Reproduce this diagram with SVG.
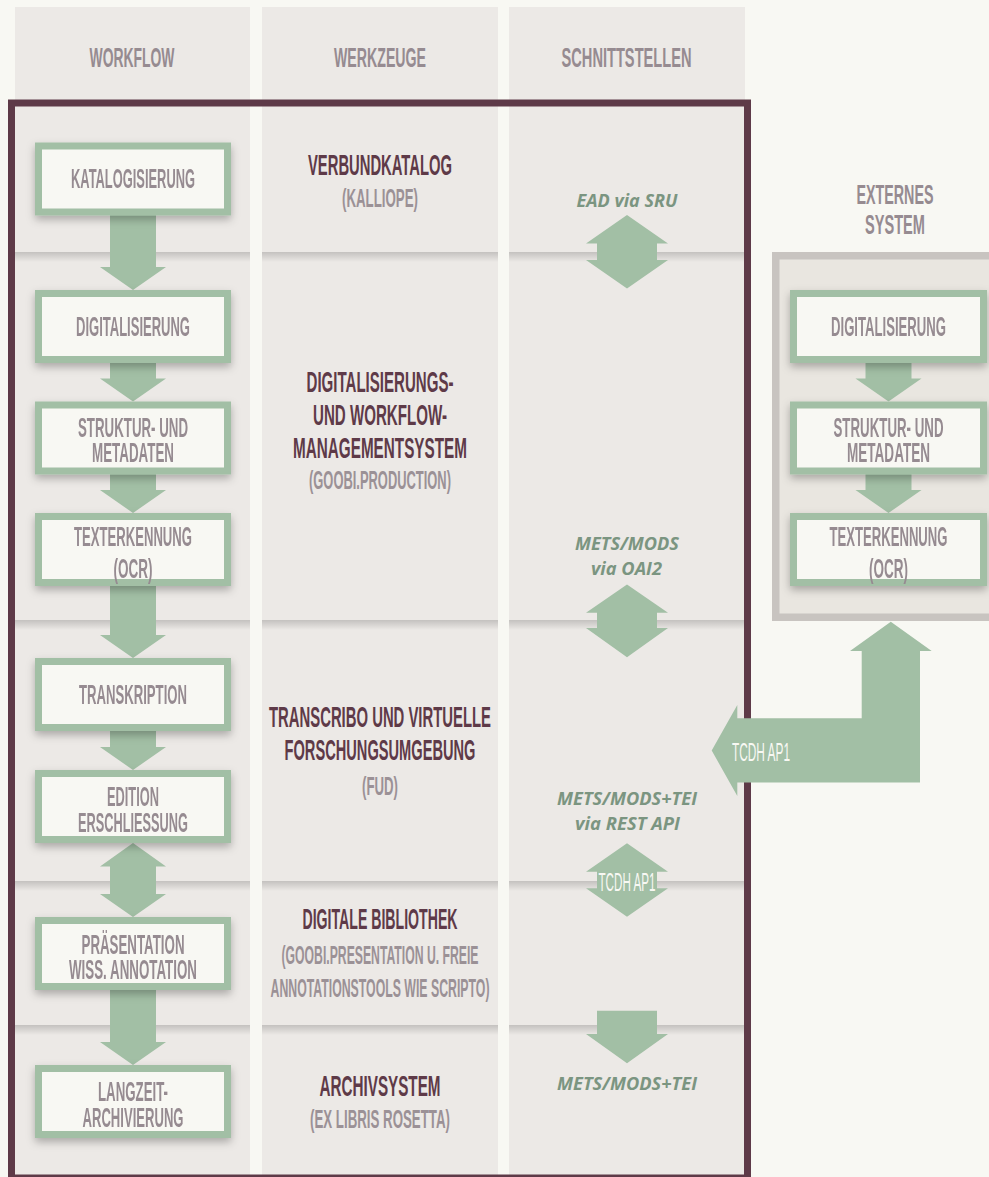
<svg xmlns="http://www.w3.org/2000/svg" width="989" height="1177" viewBox="0 0 989 1177">
<defs>
<style>
.bg{fill:#f8f8f3}
.col{fill:#ece9e6}
.band{fill:url(#bandg)}
.frame{fill:none;stroke:#5e3a48;stroke-width:7}
.extfill{fill:#e9e6e0}
.extline{fill:none;stroke:#c8c4c0;stroke-width:7.5}
.box{fill:#f8f8f3;stroke:#a2bfa5;stroke-width:7}
.arr{fill:#a2bfa5}
.t{font-family:"Liberation Sans Narrow","Liberation Sans",sans-serif;font-weight:bold;text-anchor:middle}
.hd{font-size:27px;fill:#968b91}
.wf{font-size:27px;fill:#968b91}
.ti{font-size:30px;fill:#5e3a48}
.sub{font-size:26px;fill:#9b9196}
.wt{font-size:26px;fill:#f8f8f3;font-weight:normal}
.if{font-family:"Open Sans","DejaVu Sans",sans-serif;font-weight:bold;font-style:italic;font-size:18px;fill:#7b9581;text-anchor:middle}
</style>
<linearGradient id="bandg" x1="0" y1="0" x2="0" y2="1">
<stop offset="0" stop-color="#000" stop-opacity="0.17"/>
<stop offset="1" stop-color="#000" stop-opacity="0"/>
</linearGradient>
<filter id="sh" x="-20%" y="-20%" width="140%" height="170%">
<feDropShadow dx="0" dy="4" stdDeviation="4" flood-color="#000" flood-opacity="0.28"/>
</filter>
</defs>

<rect class="bg" x="0" y="0" width="989" height="1177"/>

<g id="columns">
<rect class="col" x="15" y="7" width="235" height="1170"/>
<rect class="col" x="262" y="7" width="236" height="1170"/>
<rect class="col" x="509" y="7" width="236" height="1170"/>
<rect class="band" x="15" y="252" width="235" height="10"/>
<rect class="band" x="262" y="252" width="236" height="10"/>
<rect class="band" x="509" y="252" width="236" height="10"/>
<rect class="band" x="15" y="620" width="235" height="10"/>
<rect class="band" x="262" y="620" width="236" height="10"/>
<rect class="band" x="509" y="620" width="236" height="10"/>
<rect class="band" x="15" y="881" width="235" height="10"/>
<rect class="band" x="262" y="881" width="236" height="10"/>
<rect class="band" x="509" y="881" width="236" height="10"/>
<rect class="band" x="15" y="1025" width="235" height="10"/>
<rect class="band" x="262" y="1025" width="236" height="10"/>
<rect class="band" x="509" y="1025" width="236" height="10"/>
</g>

<g id="headers">
<text class="t hd" x="132" y="66.5" textLength="85" lengthAdjust="spacingAndGlyphs">WORKFLOW</text>
<text class="t hd" x="380" y="66.5" textLength="92" lengthAdjust="spacingAndGlyphs">WERKZEUGE</text>
<text class="t hd" x="626.5" y="66.5" textLength="130" lengthAdjust="spacingAndGlyphs">SCHNITTSTELLEN</text>
<text class="t hd" x="895" y="203.5" textLength="77" lengthAdjust="spacingAndGlyphs">EXTERNES</text>
<text class="t hd" x="895" y="234" textLength="60" lengthAdjust="spacingAndGlyphs">SYSTEM</text>
</g>

<rect id="frame" class="frame" x="11.5" y="103" width="736" height="1075"/>

<g id="externes-system">
<rect class="extfill" x="772" y="252" width="217" height="369"/>
<path class="extline" d="M989,255.75 H775.75 V617.25 H989"/>
</g>

<g id="connectors">
<polygon class="arr" points="110,214 156,214 156,267 166,267 133,290 100,267 110,267"/>
<polygon class="arr" points="110,360 156,360 156,378.5 166,378.5 133,401.5 100,378.5 110,378.5"/>
<polygon class="arr" points="110,472 156,472 156,490 166,490 133,513 100,490 110,490"/>
<polygon class="arr" points="110,584 156,584 156,635 166,635 133,658 100,635 110,635"/>
<polygon class="arr" points="110,729 156,729 156,747 166,747 133,770 100,747 110,747"/>
<polygon class="arr" points="133,843 166,866.5 156,866.5 156,894 166,894 133,917 100,894 110,894 110,866.5 100,866.5"/>
<polygon class="arr" points="110,988 156,988 156,1042 166,1042 133,1065 100,1042 110,1042"/>
<polygon class="arr" points="865.5,360 911.5,360 911.5,378.5 921.5,378.5 888.5,401.5 855.5,378.5 865.5,378.5"/>
<polygon class="arr" points="865.5,472 911.5,472 911.5,490 921.5,490 888.5,513 855.5,490 865.5,490"/>
<polygon class="arr" points="627,215 668,243.5 657,243.5 657,260 668,260 627,288.5 586,260 597,260 597,243.5 586,243.5"/>
<polygon class="arr" points="627,584.5 668,612.7 657,612.7 657,628 668,628 627,657.3 586,628 597,628 597,612.7 586,612.7"/>
<polygon class="arr" points="627,843.3 668,871.7 657,871.7 657,888.3 668,888.3 627,916.7 586,888.3 597,888.3 597,871.7 586,871.7"/>
<polygon class="arr" points="597,1010.7 657,1010.7 657,1034 668,1034 627,1063.3 586,1034 597,1034"/>
<polygon class="arr" points="711.7,750.5 737.3,705 737.3,718.3 861.7,718.3 861.7,651 850,651 890.8,621.7 931.7,651 920,651 920,782.5 737.3,782.5 737.3,796"/>
<text class="t wt" x="761" y="761.3" textLength="58" lengthAdjust="spacingAndGlyphs">TCDH AP1</text>
<text class="t wt" x="627" y="891" textLength="57" lengthAdjust="spacingAndGlyphs">TCDH AP1</text>
</g>

<g id="wf-katalogisierung" filter="url(#sh)">
<rect class="box" x="38.5" y="146" width="189" height="66"/>
<text class="t wf" x="133" y="188.4" textLength="124" lengthAdjust="spacingAndGlyphs">KATALOGISIERUNG</text>
</g>
<g id="wf-digitalisierung" filter="url(#sh)">
<rect class="box" x="38.5" y="293.5" width="189" height="66"/>
<text class="t wf" x="133" y="336" textLength="114" lengthAdjust="spacingAndGlyphs">DIGITALISIERUNG</text>
</g>
<g id="wf-struktur" filter="url(#sh)">
<rect class="box" x="38.5" y="405" width="189" height="66"/>
<text class="t wf" x="133" y="437" textLength="110" lengthAdjust="spacingAndGlyphs">STRUKTUR- UND</text>
<text class="t wf" x="133" y="462" textLength="82" lengthAdjust="spacingAndGlyphs">METADATEN</text>
</g>
<g id="wf-texterkennung" filter="url(#sh)">
<rect class="box" x="38.5" y="516.5" width="189" height="66"/>
<text class="t wf" x="133" y="545.5" textLength="118" lengthAdjust="spacingAndGlyphs">TEXTERKENNUNG</text>
<text class="t wf" x="133" y="577.5" textLength="39" lengthAdjust="spacingAndGlyphs">(OCR)</text>
</g>
<g id="wf-transkription" filter="url(#sh)">
<rect class="box" x="38.5" y="661.5" width="189" height="66"/>
<text class="t wf" x="133" y="704" textLength="108" lengthAdjust="spacingAndGlyphs">TRANSKRIPTION</text>
</g>
<g id="wf-edition" filter="url(#sh)">
<rect class="box" x="38.5" y="773.5" width="189" height="66"/>
<text class="t wf" x="133" y="805.5" textLength="52" lengthAdjust="spacingAndGlyphs">EDITION</text>
<text class="t wf" x="133" y="831.5" textLength="110" lengthAdjust="spacingAndGlyphs">ERSCHLIESSUNG</text>
</g>
<g id="wf-praesentation" filter="url(#sh)">
<rect class="box" x="38.5" y="920.5" width="189" height="66"/>
<text class="t wf" x="133" y="953.5" textLength="103" lengthAdjust="spacingAndGlyphs">PRÄSENTATION</text>
<text class="t wf" x="133" y="978.5" textLength="128" lengthAdjust="spacingAndGlyphs">WISS. ANNOTATION</text>
</g>
<g id="wf-langzeit" filter="url(#sh)">
<rect class="box" x="38.5" y="1068.5" width="189" height="66"/>
<text class="t wf" x="133" y="1101" textLength="70" lengthAdjust="spacingAndGlyphs">LANGZEIT-</text>
<text class="t wf" x="133" y="1126.5" textLength="101" lengthAdjust="spacingAndGlyphs">ARCHIVIERUNG</text>
</g>

<g id="ext-digitalisierung" filter="url(#sh)">
<rect class="box" x="793.5" y="293.5" width="190" height="66"/>
<text class="t wf" x="888.5" y="335.5" textLength="115" lengthAdjust="spacingAndGlyphs">DIGITALISIERUNG</text>
</g>
<g id="ext-struktur" filter="url(#sh)">
<rect class="box" x="793.5" y="405" width="190" height="66"/>
<text class="t wf" x="888.5" y="437" textLength="110" lengthAdjust="spacingAndGlyphs">STRUKTUR- UND</text>
<text class="t wf" x="888.5" y="462" textLength="83" lengthAdjust="spacingAndGlyphs">METADATEN</text>
</g>
<g id="ext-texterkennung" filter="url(#sh)">
<rect class="box" x="793.5" y="516.5" width="190" height="66"/>
<text class="t wf" x="888.5" y="545.5" textLength="118" lengthAdjust="spacingAndGlyphs">TEXTERKENNUNG</text>
<text class="t wf" x="888.5" y="577.5" textLength="39" lengthAdjust="spacingAndGlyphs">(OCR)</text>
</g>

<g id="tool-verbundkatalog">
<text class="t ti" x="380" y="174.5" textLength="144" lengthAdjust="spacingAndGlyphs">VERBUNDKATALOG</text>
<text class="t sub" x="380" y="207.3" textLength="76" lengthAdjust="spacingAndGlyphs">(KALLIOPE)</text>
</g>
<g id="tool-goobi-production">
<text class="t ti" x="380" y="391.5" textLength="147" lengthAdjust="spacingAndGlyphs">DIGITALISIERUNGS-</text>
<text class="t ti" x="380" y="424.5" textLength="134" lengthAdjust="spacingAndGlyphs">UND WORKFLOW-</text>
<text class="t ti" x="380" y="457.5" textLength="174" lengthAdjust="spacingAndGlyphs">MANAGEMENTSYSTEM</text>
<text class="t sub" x="380" y="489.3" textLength="142" lengthAdjust="spacingAndGlyphs">(GOOBI.PRODUCTION)</text>
</g>
<g id="tool-transcribo">
<text class="t ti" x="380" y="727" textLength="222" lengthAdjust="spacingAndGlyphs">TRANSCRIBO UND VIRTUELLE</text>
<text class="t ti" x="380" y="759.5" textLength="191" lengthAdjust="spacingAndGlyphs">FORSCHUNGSUMGEBUNG</text>
<text class="t sub" x="380" y="794.8" textLength="36" lengthAdjust="spacingAndGlyphs">(FUD)</text>
</g>
<g id="tool-digitale-bibliothek">
<text class="t ti" x="380" y="928.5" textLength="155" lengthAdjust="spacingAndGlyphs">DIGITALE BIBLIOTHEK</text>
<text class="t sub" x="380" y="964.3" textLength="197" lengthAdjust="spacingAndGlyphs">(GOOBI.PRESENTATION U. FREIE</text>
<text class="t sub" x="380" y="996.8" textLength="219" lengthAdjust="spacingAndGlyphs">ANNOTATIONSTOOLS WIE SCRIPTO)</text>
</g>
<g id="tool-archivsystem">
<text class="t ti" x="380" y="1095.5" textLength="121" lengthAdjust="spacingAndGlyphs">ARCHIVSYSTEM</text>
<text class="t sub" x="380" y="1128.3" textLength="140" lengthAdjust="spacingAndGlyphs">(EX LIBRIS ROSETTA)</text>
</g>

<g id="interfaces">
<text class="if" x="627" y="207" textLength="101" lengthAdjust="spacingAndGlyphs">EAD via SRU</text>
<text class="if" x="627" y="549.5" textLength="104" lengthAdjust="spacingAndGlyphs">METS/MODS</text>
<text class="if" x="626.5" y="574.5" textLength="71" lengthAdjust="spacingAndGlyphs">via OAI2</text>
<text class="if" x="627" y="804.5" textLength="140" lengthAdjust="spacingAndGlyphs">METS/MODS+TEI</text>
<text class="if" x="627.5" y="829.5" textLength="105" lengthAdjust="spacingAndGlyphs">via REST API</text>
<text class="if" x="627" y="1089.5" textLength="140" lengthAdjust="spacingAndGlyphs">METS/MODS+TEI</text>
</g>
</svg>
